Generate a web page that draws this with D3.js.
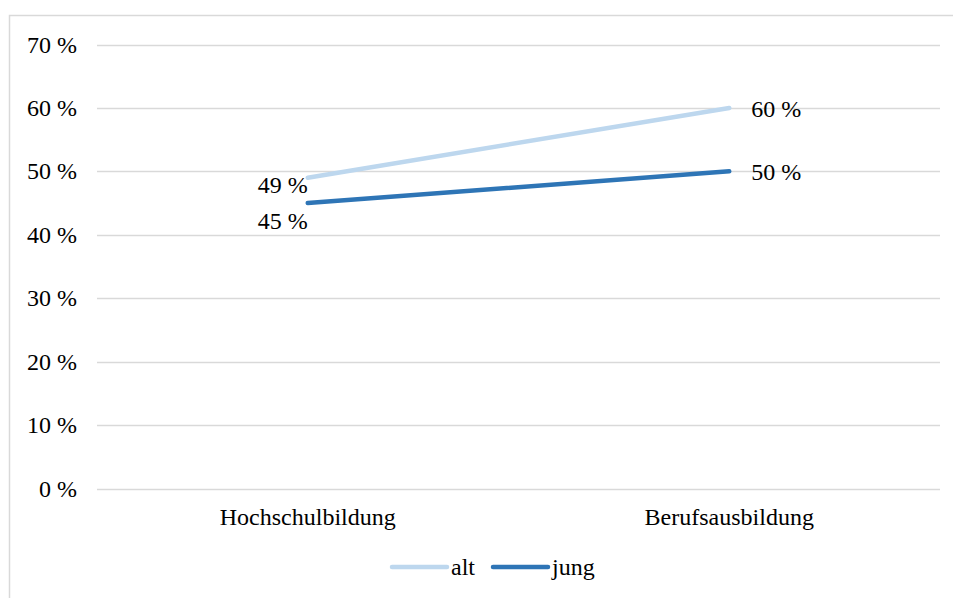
<!DOCTYPE html>
<html><head><meta charset="utf-8">
<script src="https://cdn.jsdelivr.net/npm/d3@7"></script>
<style>body{margin:0;background:#fff}svg{display:block}</style>
</head><body>
<svg id="c" width="953" height="598"></svg>
<script>
(function(){
const categories = ["Hochschulbildung", "Berufsausbildung"];
const seriesNames = ["alt", "jung"];
const altValues = [49, 60];
const jungValues = [45, 50];
const yTicks = [0, 10, 20, 30, 40, 50, 60, 70];
const colors = ["#BDD7EE", "#2E75B6"];

const svg = d3.select("#c");
const font = "'Liberation Serif','Times New Roman',serif";
const fs = 24;

// chart area border
svg.append("rect").attr("x", 9.5).attr("y", 15.5).attr("width", 960).attr("height", 600)
  .attr("fill", "none").attr("stroke", "#d9d9d9").attr("stroke-width", 1.5);

const mLeft = 97, mRight = 940, mTop = 44.5, mBottom = 488.5;
const x = d3.scaleBand().domain(categories).range([mLeft, mRight]);
const y = d3.scaleLinear().domain([0, 70]).range([mBottom, mTop]);

// gridlines
svg.append("g").selectAll("line").data(yTicks).join("line")
  .attr("x1", mLeft).attr("x2", mRight)
  .attr("y1", d => Math.round(y(d)) + 0.5).attr("y2", d => Math.round(y(d)) + 0.5)
  .attr("stroke", "#d9d9d9").attr("stroke-width", 1.3);

// y labels
svg.append("g").selectAll("text").data(yTicks).join("text")
  .attr("x", 77).attr("y", d => y(d) + 8)
  .attr("text-anchor", "end").attr("font-family", font).attr("font-size", fs).attr("fill", "#000")
  .text(d => d + " %");

// x labels
svg.append("g").selectAll("text").data(categories).join("text")
  .attr("x", d => x(d) + x.bandwidth() / 2).attr("y", 525)
  .attr("text-anchor", "middle").attr("font-family", font).attr("font-size", fs).attr("fill", "#000")
  .text(d => d);

const series = [altValues, jungValues];
const line = d3.line().x((d, i) => x(categories[i]) + x.bandwidth() / 2).y(d => y(d));
series.forEach((vals, si) => {
  svg.append("path").datum(vals).attr("d", line)
    .attr("fill", "none").attr("stroke", colors[si]).attr("stroke-width", 4.5)
    .attr("stroke-linecap", "round");
});

// data labels
const leftOffsets = [7, 17.5];
series.forEach((vals, si) => {
  vals.forEach((v, i) => {
    const cx = x(categories[i]) + x.bandwidth() / 2;
    const t = svg.append("text").attr("font-family", font).attr("font-size", fs).attr("fill", "#000")
      .text(v + " %");
    if (i === 0) {
      t.attr("x", cx).attr("y", y(v) + leftOffsets[si] + 8).attr("text-anchor", "end");
    } else {
      t.attr("x", cx + 22).attr("y", y(v) + 9).attr("text-anchor", "start");
    }
  });
});

// legend
const legX = [392, 493];
seriesNames.forEach((n, i) => {
  svg.append("line").attr("x1", legX[i]).attr("x2", legX[i] + 55).attr("y1", 567).attr("y2", 567)
    .attr("stroke", colors[i]).attr("stroke-width", 4.5).attr("stroke-linecap", "round");
  svg.append("text").attr("x", legX[i] + 59).attr("y", 575)
    .attr("font-family", font).attr("font-size", fs).attr("fill", "#000").text(n);
});
})();
</script>
</body></html>
